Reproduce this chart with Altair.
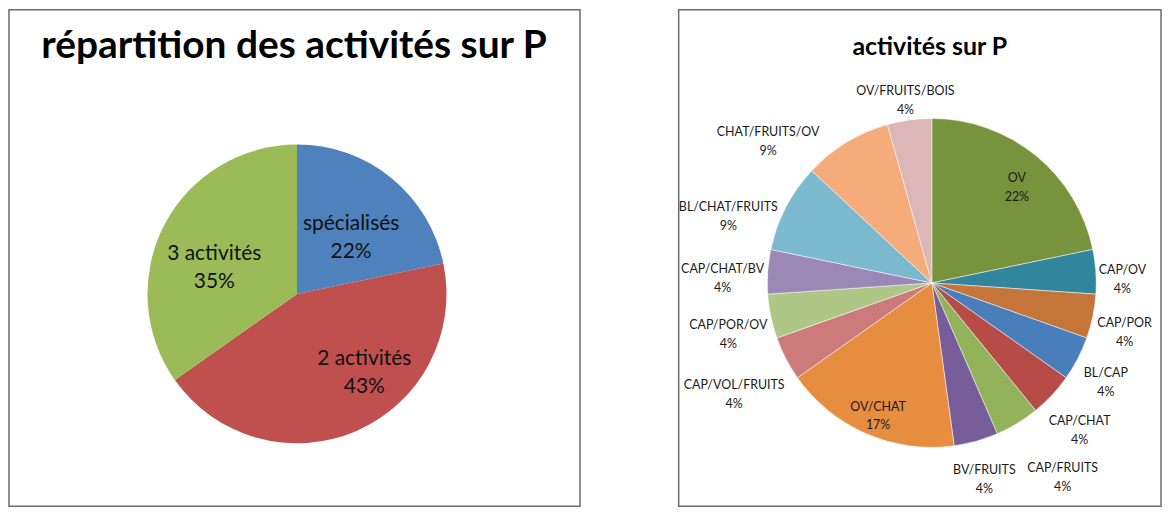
import altair as alt
import pandas as pd

# ---------------- data ----------------
LEFT_TITLE = "répartition des activités sur P"
left_labels = ["spécialisés", "2 activités", "3 activités"]
left_counts = [5, 10, 8]
left_colors = ["#4F81BD", "#C0504D", "#9BBB59"]

RIGHT_TITLE = "activités sur P"
right_labels = ["OV", "CAP/OV", "CAP/POR", "BL/CAP", "CAP/CHAT", "CAP/FRUITS",
                "BV/FRUITS", "OV/CHAT", "CAP/VOL/FRUITS", "CAP/POR/OV",
                "CAP/CHAT/BV", "BL/CHAT/FRUITS", "CHAT/FRUITS/OV", "OV/FRUITS/BOIS"]
right_counts = [5, 1, 1, 1, 1, 1, 1, 4, 1, 1, 1, 2, 2, 1]
right_colors = ["#77933C", "#31859C", "#C4753A", "#4A7EBB", "#B64B48", "#92B35A",
                "#775D99", "#E68D40", "#CC7B7A", "#AFC786", "#9C88B6", "#7BB9CF",
                "#F6AB7B", "#DDB6B7"]

# ---------------- layout / style ----------------
FONT = "Lato"
LW, LH = 573, 498
LCX, LCY, LR = 289, 285, 150
RW, RH = 484, 498
RCX, RCY, RR = 254, 274, 165
SPACING = 97
CHARW = 7.5        # approx. label width per character (px)
LABEL_H = 38       # two-line label block height
GAP = 3
INNER_R = 0.82 * RR
LEFT_LABEL_R = 90
LEFT_LINE_H = 28
# small angular (deg) / radial (px) nudges of labels, as placed in the original
LEFT_LABEL_NUDGE = {"spécialisés": (5, -12), "3 activités": (-10, -3), "2 activités": (-17, 14)}
RIGHT_LABEL_NUDGE = {"CHAT/FRUITS/OV": (-16, 4), "BL/CHAT/FRUITS": (-7, -6), "CAP/FRUITS": (-4, 22)}


def pie_frame(labels, counts):
    return pd.DataFrame({"label": labels, "n": counts, "idx": list(range(len(labels)))})


def nudge_expr(nudges, k):
    e = "0"
    for lab, v in nudges.items():
        e = f"datum.label === '{lab}' ? {v[k]} : ({e})"
    return e


def with_mid(chart):
    return chart.transform_window(
        cum="sum(n)", sort=[alt.SortField("idx")], frame=[None, 0]
    ).transform_joinaggregate(total="sum(n)").transform_calculate(
        mid="2*PI*(datum.cum - datum.n/2)/datum.total",
        txt="datum.label + '\\n' + format(datum.n/datum.total, '.0%')",
    )


# ---------------- left panel ----------------
ldf = pie_frame(left_labels, left_counts)
lbase = alt.Chart(ldf)
larc = lbase.mark_arc(outerRadius=LR).encode(
    theta=alt.Theta("n:Q", stack=True),
    order=alt.Order("idx:Q"),
    color=alt.Color("label:N", scale=alt.Scale(domain=left_labels, range=left_colors), legend=None),
    x=alt.value(LCX), y=alt.value(LCY),
)
ltext = with_mid(lbase).transform_calculate(
    th=f"datum.mid + ({nudge_expr(LEFT_LABEL_NUDGE, 0)})*PI/180",
    r=f"{LEFT_LABEL_R} + ({nudge_expr(LEFT_LABEL_NUDGE, 1)})",
).mark_text(
    font=FONT, fontSize=21, lineHeight=LEFT_LINE_H, lineBreak="\n", color="#111111",
    align="center", baseline="middle", dy=-LEFT_LINE_H / 2,
).encode(
    theta=alt.Theta("th:Q", scale=None, stack=False),
    radius=alt.Radius("r:Q", scale=None),
    text="txt:N",
    x=alt.value(LCX), y=alt.value(LCY),
)
ltitle = alt.Chart(pd.DataFrame({"t": [LEFT_TITLE]})).mark_text(
    font=FONT, fontSize=39, fontWeight="bold", color="#000000",
    align="center", baseline="alphabetic",
).encode(text="t:N", x=alt.value(LCX - 3), y=alt.value(48))

left = alt.layer(larc, ltext, ltitle).resolve_scale(
    theta="independent", radius="independent"
).properties(width=LW, height=LH)

# ---------------- right panel ----------------
rdf = pie_frame(right_labels, right_counts)
rbase = alt.Chart(rdf)
rarc = rbase.mark_arc(outerRadius=RR, stroke="#ffffff", strokeWidth=0.5).encode(
    theta=alt.Theta("n:Q", stack=True),
    order=alt.Order("idx:Q"),
    color=alt.Color("label:N", scale=alt.Scale(domain=right_labels, range=right_colors), legend=None),
    x=alt.value(RCX), y=alt.value(RCY),
)
rtext = with_mid(rbase).transform_calculate(
    th=f"datum.mid + ({nudge_expr(RIGHT_LABEL_NUDGE, 0)})*PI/180",
    w=f"length(datum.label)*{CHARW}",
).transform_calculate(
    r=(f"datum.n >= 4 ? {INNER_R} : {RR + GAP} + abs(sin(datum.th))*datum.w/2"
       f" + abs(cos(datum.th))*{LABEL_H / 2} + ({nudge_expr(RIGHT_LABEL_NUDGE, 1)})"),
).mark_text(
    font=FONT, fontSize=12.5, lineHeight=19, lineBreak="\n", color="#1a1a1a",
    align="center", baseline="middle", clip=True,
).encode(
    theta=alt.Theta("th:Q", scale=None, stack=False),
    radius=alt.Radius("r:Q", scale=None),
    text="txt:N",
    x=alt.value(RCX), y=alt.value(RCY),
)
rtitle = alt.Chart(pd.DataFrame({"t": [RIGHT_TITLE]})).mark_text(
    font=FONT, fontSize=25, fontWeight="bold", color="#000000",
    align="center", baseline="alphabetic",
).encode(text="t:N", x=alt.value(RCX - 2), y=alt.value(45))

right = alt.layer(rarc, rtext, rtitle).resolve_scale(
    theta="independent", radius="independent"
).properties(width=RW, height=RH)

chart = alt.hconcat(left, right, spacing=SPACING).resolve_scale(
    color="independent", theta="independent", radius="independent"
).properties(
    padding=0, background="#ffffff"
).configure_view(stroke="#6b6b6b", strokeWidth=1.5)

chart.save("out.html", embed_options={"renderer": "svg", "actions": False})
